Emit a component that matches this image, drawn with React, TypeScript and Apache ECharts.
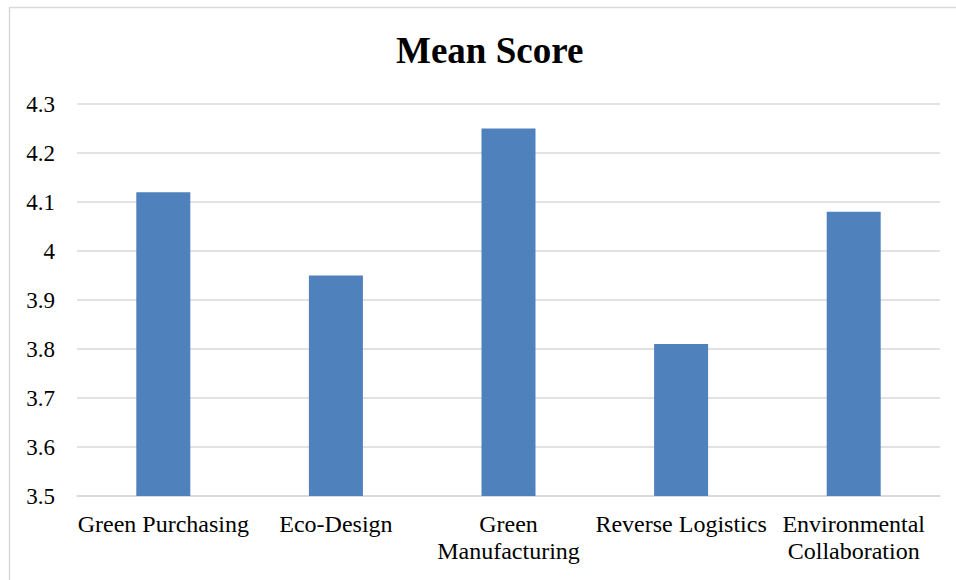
import React, { useEffect, useRef } from "react";
import * as echarts from "echarts";

const categories = [
  "Green Purchasing",
  "Eco-Design",
  "Green\nManufacturing",
  "Reverse Logistics",
  "Environmental\nCollaboration",
];
const meanScores = [4.12, 3.95, 4.25, 3.81, 4.08];
const titleText = "Mean Score";

const FONT = "Liberation Serif";

export default function App() {
  const ref = useRef<HTMLDivElement>(null);
  useEffect(() => {
    document.body.style.margin = "0";
    const chart = echarts.init(ref.current!, null, { renderer: "svg" });
    chart.setOption({
      animation: false,
      backgroundColor: "#fff",
      textStyle: { fontFamily: FONT },
      title: {
        text: titleText,
        left: 391,
        top: 27,
        textStyle: { fontFamily: FONT, fontSize: 37, fontWeight: "bold", color: "#000" },
      },
      graphic: [
        {
          type: "rect",
          shape: { x: 9.5, y: 7.5, width: 2000, height: 2000 },
          style: { fill: "none", stroke: "#d9d9d9", lineWidth: 1.5 },
          silent: true,
        },
      ],
      grid: { left: 77, right: 16, top: 104, bottom: 84, containLabel: false },
      xAxis: {
        type: "category",
        data: categories,
        axisTick: { show: false },
        axisLine: { show: true, lineStyle: { color: "#d9d9d9", width: 1.5 } },
        axisLabel: {
          fontFamily: FONT,
          fontSize: 24,
          color: "#000",
          margin: 14,
          lineHeight: 27,
          interval: 0,
        },
      },
      yAxis: {
        type: "value",
        min: 3.5,
        max: 4.3,
        interval: 0.1,
        axisLine: { show: false },
        axisTick: { show: false },
        splitLine: { lineStyle: { color: "#d9d9d9", width: 1.5 } },
        axisLabel: {
          fontFamily: FONT,
          fontSize: 23,
          color: "#000",
          margin: 22,
          formatter: (v: number) => String(Math.round(v * 10) / 10),
        },
      },
      series: [
        {
          type: "bar",
          data: meanScores,
          barWidth: 54,
          itemStyle: { color: "#4f81bd" },
        },
      ],
    });
    return () => chart.dispose();
  }, []);
  return <div ref={ref} style={{ width: 956, height: 580 }} />;
}
